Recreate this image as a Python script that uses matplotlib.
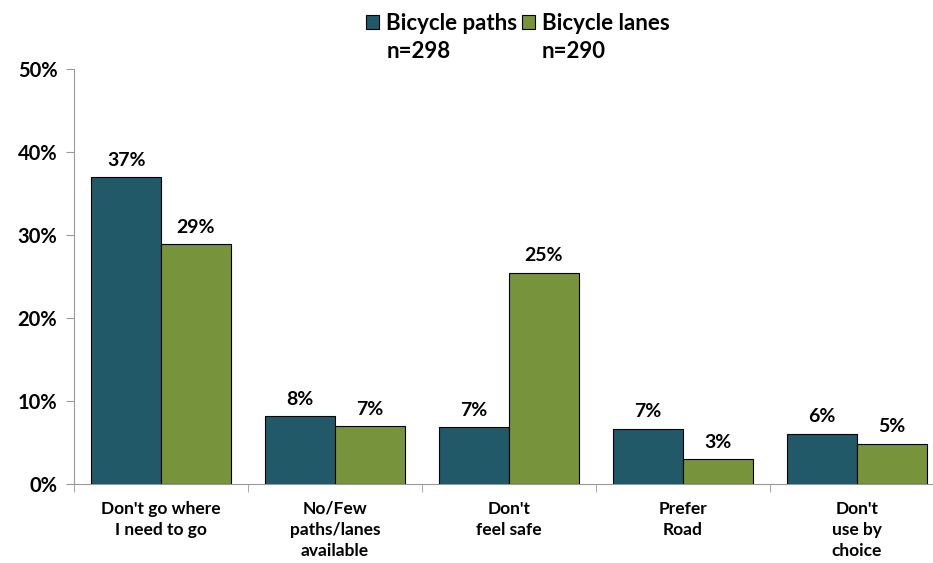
import numpy as np
import matplotlib.pyplot as plt

categories = ["Don't go where\nI need to go", "No/Few\npaths/lanes\navailable",
              "Don't\nfeel safe", "Prefer\nRoad", "Don't\nuse by\nchoice"]
paths = [37.0, 8.2, 6.9, 6.7, 6.1]
lanes = [28.9, 7.0, 25.5, 3.0, 4.9]
paths_lbl = ["37%", "8%", "7%", "7%", "6%"]
lanes_lbl = ["29%", "7%", "25%", "3%", "5%"]
series = ["Bicycle paths", "Bicycle lanes"]
counts = ["n=298", "n=290"]

plt.rcParams['font.family'] = ['Lato', 'DejaVu Sans']
plt.rcParams['font.weight'] = 'bold'

fig = plt.figure(figsize=(9.33, 5.63), dpi=100)
# the plot area runs a little past the right edge, as in the original
ax = fig.add_axes([0.0793, 0.140, 0.9325, 0.737])

x = np.arange(len(categories))
w = 0.40
b1 = ax.bar(x - w/2, paths, w, color='#215968', edgecolor='black', linewidth=0.8, label=series[0])
b2 = ax.bar(x + w/2, lanes, w, color='#77933C', edgecolor='black', linewidth=0.8, label=series[1])

for bars, lbls in ((b1, paths_lbl), (b2, lanes_lbl)):
    for r, t in zip(bars, lbls):
        ax.text(r.get_x() + r.get_width()/2, r.get_height() + 1.0, t,
                ha='center', va='bottom', fontsize=14, fontweight='bold')

ax.set_xlim(-0.5, len(categories) - 0.5)
ax.set_ylim(0, 50)
ax.set_yticks(range(0, 51, 10))
ax.set_yticklabels([f"{v}%" for v in range(0, 51, 10)], fontsize=14.5, fontweight='bold')
ax.set_xticks(x)
ax.set_xticklabels(categories, fontsize=12.5, fontweight='bold', linespacing=1.4)
ax.tick_params(axis='x', length=0, pad=12)
ax.set_xticks(np.arange(-0.5, len(categories)), minor=True)
ax.tick_params(axis='x', which='minor', length=6, color='#999999', direction='out')
ax.tick_params(axis='y', length=6, color='#999999', direction='out', pad=6)
for s in ('top', 'right'):
    ax.spines[s].set_visible(False)
for s in ('left', 'bottom'):
    ax.spines[s].set_color('#999999')

leg = fig.legend(handles=[b1, b2], labels=series, loc='upper center', ncol=2,
                 bbox_to_anchor=(0.555, 1.012), frameon=False,
                 handlelength=0.6, handleheight=0.6, handletextpad=0.3,
                 columnspacing=0.2, prop={'weight': 'bold', 'size': 16})
fig.canvas.draw()
inv = fig.transFigure.inverted()
for t, n in zip(leg.get_texts(), counts):
    bb = t.get_window_extent()
    x0, y0 = inv.transform((bb.x0, bb.y0))
    fig.text(x0, y0 - 0.012, n, ha='left', va='top', fontsize=16, fontweight='bold')

fig.savefig("out.png", dpi=100)
